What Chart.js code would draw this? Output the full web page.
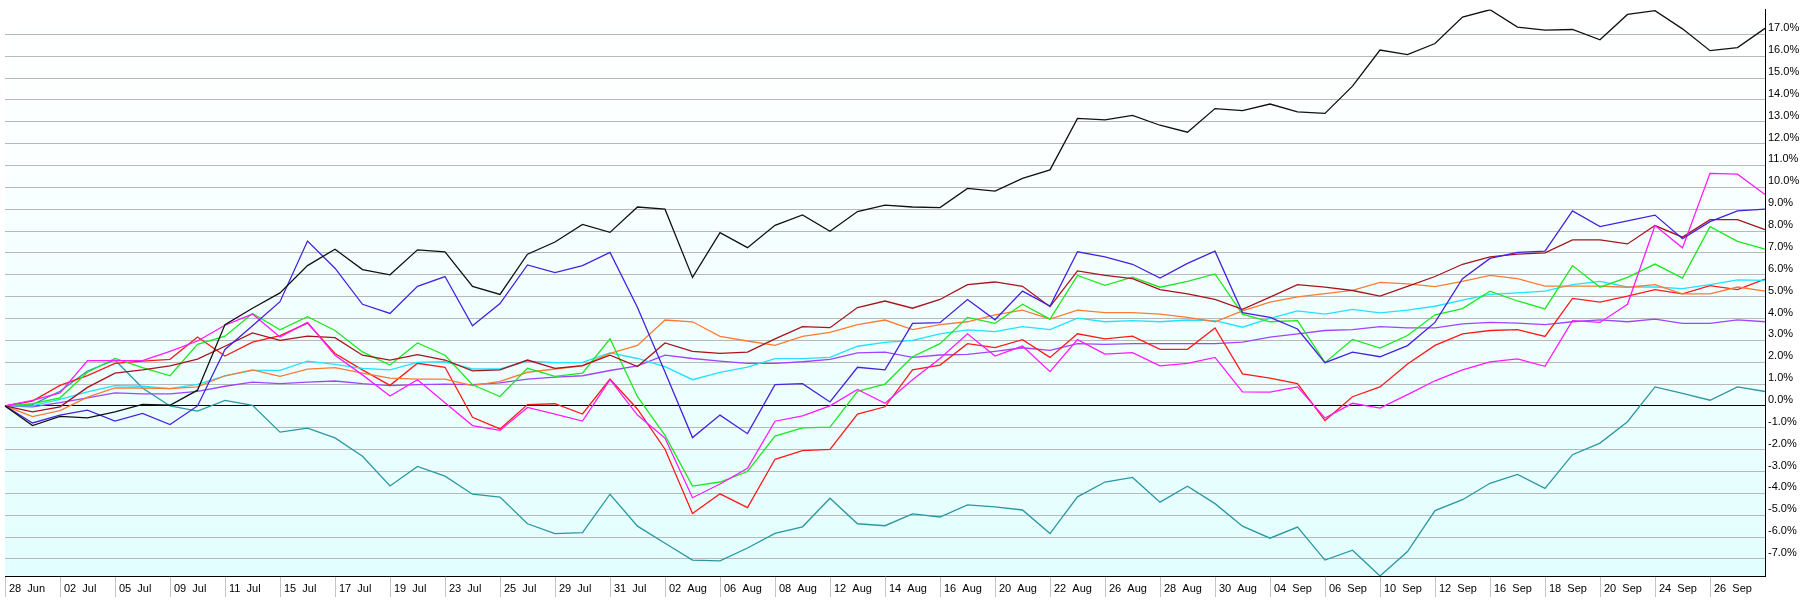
<!DOCTYPE html>
<html lang="en">
<head>
<meta charset="UTF-8">
<title>Relative performance</title>
<script src="https://cdn.jsdelivr.net/npm/chart.js"></script>
<style>
  html, body { margin: 0; padding: 0; background: #ffffff; }
  #wrap { width: 1802px; height: 602px; position: relative; }
</style>
</head>
<body>
<div id="wrap"><canvas id="perfChart"></canvas></div>
<script>
// trading days, one label shown every 2 points
const dates = ['28 Jun','01 Jul','02 Jul','03 Jul','05 Jul','08 Jul','09 Jul','10 Jul','11 Jul','12 Jul',
  '15 Jul','16 Jul','17 Jul','18 Jul','19 Jul','22 Jul','23 Jul','24 Jul','25 Jul','26 Jul',
  '29 Jul','30 Jul','31 Jul','01 Aug','02 Aug','05 Aug','06 Aug','07 Aug','08 Aug','09 Aug',
  '12 Aug','13 Aug','14 Aug','15 Aug','16 Aug','19 Aug','20 Aug','21 Aug','22 Aug','23 Aug',
  '26 Aug','27 Aug','28 Aug','29 Aug','30 Aug','03 Sep','04 Sep','05 Sep','06 Sep','09 Sep',
  '10 Sep','11 Sep','12 Sep','13 Sep','16 Sep','17 Sep','18 Sep','19 Sep','20 Sep','23 Sep',
  '24 Sep','25 Sep','26 Sep','27 Sep','30 Sep'];

// % change since 28 Jun
const blackSeries = [0,-0.9,-0.48,-0.55,-0.27,0.07,0.03,0.72,3.72,4.47,5.17,6.42,7.17,6.24,6.0,7.14,7.05,5.47,5.1,6.94,
  7.5,8.3,7.94,9.1,9.0,5.88,7.93,7.24,8.26,8.74,7.99,8.89,9.19,9.1,9.07,9.95,9.83,10.41,10.8,13.15,
  13.09,13.29,12.84,12.52,13.6,13.51,13.81,13.45,13.38,14.63,16.28,16.07,16.58,17.79,18.12,17.33,17.19,17.22,16.75,17.91,
  18.08,17.25,16.25,16.39,17.27];
const blueSeries = [0,-0.78,-0.42,-0.19,-0.69,-0.34,-0.85,0,2.58,3.67,4.77,7.54,6.3,4.65,4.23,5.47,5.92,3.67,4.68,6.45,
  6.1,6.42,7.02,4.5,1.55,-1.45,-0.42,-1.27,0.97,1.02,0.18,1.77,1.65,3.78,3.81,4.87,3.94,5.25,4.57,7.05,
  6.82,6.48,5.85,6.52,7.08,4.27,4.05,3.52,1.98,2.46,2.25,2.76,3.82,5.82,6.75,7.02,7.08,8.92,8.2,8.47,
  8.73,7.65,8.43,8.92,9.0];
const magentaSeries = [0,0.25,0.6,2.07,2.07,2.07,2.5,2.97,3.69,4.2,3.15,3.82,2.32,1.42,0.45,1.2,0.15,-0.9,-1.12,-0.07,
  -0.37,-0.69,1.2,-0.42,-1.47,-4.2,-3.57,-2.85,-0.7,-0.45,0.0,0.75,0.12,1.2,2.17,3.3,2.28,2.74,1.57,3.03,
  2.37,2.44,1.83,1.95,2.22,0.64,0.63,0.87,-0.55,0.12,-0.1,0.52,1.15,1.65,2.02,2.15,1.81,3.9,3.82,4.65,
  8.25,7.23,10.64,10.6,9.67];
const darkRedSeries = [0,-0.27,-0.04,0.85,1.5,1.65,1.83,2.14,2.73,3.34,3.0,3.19,3.12,2.32,2.1,2.35,2.1,1.6,1.65,2.1,
  1.72,1.84,2.32,1.8,2.88,2.5,2.4,2.46,3.07,3.63,3.58,4.5,4.8,4.47,4.87,5.55,5.67,5.47,4.54,6.18,
  5.97,5.82,5.32,5.13,4.87,4.42,4.98,5.55,5.43,5.28,5.02,5.47,5.92,6.48,6.82,6.94,7.0,7.6,7.6,7.41,
  8.25,7.72,8.52,8.52,8.07];
const greenSeries = [0,0.1,0.37,1.54,2.17,1.75,1.38,2.82,3.19,4.23,3.48,4.08,3.45,2.47,1.87,2.88,2.32,0.97,0.43,1.72,
  1.35,1.5,3.07,0.42,-1.35,-3.67,-3.48,-3.0,-1.38,-1.0,-0.97,0.67,1.0,2.25,2.85,4.05,3.78,4.65,3.97,5.97,
  5.52,5.89,5.43,5.7,6.04,4.2,3.85,3.9,1.98,3.04,2.65,3.22,4.17,4.45,5.25,4.8,4.44,6.42,5.43,5.88,
  6.49,5.85,8.2,7.53,7.17];
const orangeSeries = [0,-0.49,-0.21,0.4,0.82,0.82,0.79,0.87,1.38,1.65,1.35,1.68,1.75,1.5,1.27,1.23,1.23,0.93,1.12,1.54,
  1.69,1.83,2.4,2.77,3.93,3.85,3.18,2.97,2.77,3.18,3.36,3.72,3.93,3.49,3.72,3.85,4.17,4.38,3.97,4.38,
  4.27,4.27,4.2,4.05,3.85,4.35,4.75,4.99,5.14,5.29,5.65,5.58,5.46,5.7,5.97,5.82,5.48,5.48,5.48,5.43,
  5.55,5.13,5.13,5.44,5.25];
const cyanSeries = [0,0,0.3,0.64,0.93,0.9,0.79,0.99,1.38,1.63,1.63,2.05,1.9,1.72,1.65,1.99,2.02,1.69,1.69,2.05,
  1.98,1.99,2.43,2.17,1.8,1.2,1.54,1.77,2.16,2.16,2.22,2.73,2.91,3.0,3.3,3.48,3.4,3.63,3.49,4.02,
  3.85,3.9,3.85,3.93,3.9,3.6,4.0,4.35,4.2,4.42,4.26,4.38,4.56,4.84,5.1,5.17,5.25,5.55,5.7,5.44,
  5.44,5.37,5.55,5.77,5.74];
const redSeries = [0,0.22,0.94,1.39,1.95,2.05,2.13,3.15,2.28,2.92,3.22,3.79,2.4,1.65,0.94,1.95,1.77,-0.52,-1.05,0.06,
  0.1,-0.37,1.23,-0.15,-1.98,-4.92,-4.02,-4.65,-2.44,-2.04,-1.99,-0.37,-0.04,1.65,1.87,2.85,2.67,3.03,2.22,3.3,
  3.07,3.19,2.59,2.59,3.57,1.47,1.27,1.02,-0.67,0.42,0.87,1.92,2.77,3.3,3.45,3.49,3.18,4.92,4.75,5.02,
  5.32,5.13,5.5,5.32,5.8];
const purpleSeries = [0,-0.04,0.15,0.37,0.6,0.55,0.55,0.67,0.9,1.09,1.02,1.09,1.14,1.02,0.93,0.97,1.0,0.97,1.05,1.23,
  1.32,1.38,1.62,1.83,2.32,2.17,2.05,1.95,1.95,2.02,2.13,2.43,2.46,2.22,2.33,2.36,2.5,2.66,2.54,2.85,
  2.82,2.85,2.85,2.85,2.85,2.92,3.15,3.3,3.45,3.49,3.63,3.57,3.57,3.75,3.82,3.79,3.72,3.85,3.94,3.85,
  3.97,3.78,3.78,3.94,3.85];
const tealSeries = [0,0.06,0.67,1.6,2.1,0.82,0,-0.24,0.25,0.03,-1.2,-1.02,-1.46,-2.3,-3.66,-2.77,-3.21,-4.04,-4.17,-5.39,
  -5.84,-5.8,-4.04,-5.5,-6.28,-7.05,-7.09,-6.5,-5.83,-5.53,-4.22,-5.39,-5.48,-4.94,-5.08,-4.53,-4.62,-4.76,-5.84,-4.16,
  -3.48,-3.27,-4.4,-3.67,-4.47,-5.5,-6.05,-5.54,-7.05,-6.6,-7.78,-6.66,-4.79,-4.29,-3.54,-3.13,-3.77,-2.23,-1.7,-0.72,
  0.87,0.57,0.26,0.87,0.66];

const yTicks = [-7,-6,-5,-4,-3,-2,-1,0,1,2,3,4,5,6,7,8,9,10,11,12,13,14,15,16,17];

function line(data, color) {
  return { data: data, borderColor: color, borderWidth: 1.3, pointRadius: 0, tension: 0, fill: false };
}

// light cyan fade behind the plot
const plotBackground = {
  id: 'plotBackground',
  beforeDraw(chart) {
    const { ctx, chartArea: a } = chart;
    const g = ctx.createLinearGradient(0, a.top, 0, a.bottom);
    g.addColorStop(0, '#ffffff');
    g.addColorStop(0.25, '#fbffff');
    g.addColorStop(1, '#e2fefe');
    ctx.save();
    ctx.fillStyle = g;
    ctx.fillRect(a.left, a.top, a.right - a.left, a.bottom - a.top);
    ctx.restore();
  }
};

const tickFont = { family: 'Liberation Sans, Arial, sans-serif', size: 11 };

new Chart(document.getElementById('perfChart'), {
  type: 'line',
  data: {
    labels: dates,
    datasets: [
      line(blackSeries, '#111111'),
      line(blueSeries, '#4522e0'),
      line(magentaSeries, '#ff1aff'),
      line(darkRedSeries, '#a8141c'),
      line(greenSeries, '#1ee81e'),
      line(orangeSeries, '#ff7a33'),
      line(cyanSeries, '#22e2ff'),
      line(redSeries, '#ff1a1a'),
      line(purpleSeries, '#a045ff'),
      line(tealSeries, '#2a97a3')
    ]
  },
  options: {
    responsive: true,
    maintainAspectRatio: false,
    animation: false,
    layout: { padding: { left: 5, right: 0, top: 0, bottom: 0 } },
    plugins: { legend: { display: false }, tooltip: { enabled: false } },
    scales: {
      x: {
        type: 'category',
        offset: false,
        // a label every second day, none on the final point
        afterBuildTicks: s => { s.ticks = s.ticks.filter(t => t.value % 2 === 0 && t.value < dates.length - 1); },
        afterFit: s => { s.height = 26; },
        grid: { drawOnChartArea: false, drawTicks: true, tickLength: 21, color: '#c4c4c4', offset: false },
        border: { display: true, color: '#000000', width: 1 },
        ticks: {
          autoSkip: false, maxRotation: 0, align: 'start', labelOffset: 4, padding: -15,
          color: '#000000', font: tickFont,
          callback: function (v) { return this.getLabelForValue(v).replace(' ', '  '); }
        }
      },
      y: {
        position: 'right',
        min: -7.78,
        max: 18.13,
        afterBuildTicks: s => { s.ticks = yTicks.map(v => ({ value: v })); },
        afterFit: s => { s.width = 37; },
        grid: {
          drawTicks: false,
          color: c => (c.tick && c.tick.value === 0 ? '#000000' : '#b8b8b8'),
          lineWidth: 1
        },
        border: { display: true, color: '#000000', width: 1 },
        ticks: {
          padding: 3, labelOffset: -6, color: '#000000', font: tickFont,
          callback: v => v.toFixed(1) + '%'
        }
      }
    }
  },
  plugins: [plotBackground]
});
</script>
</body>
</html>
